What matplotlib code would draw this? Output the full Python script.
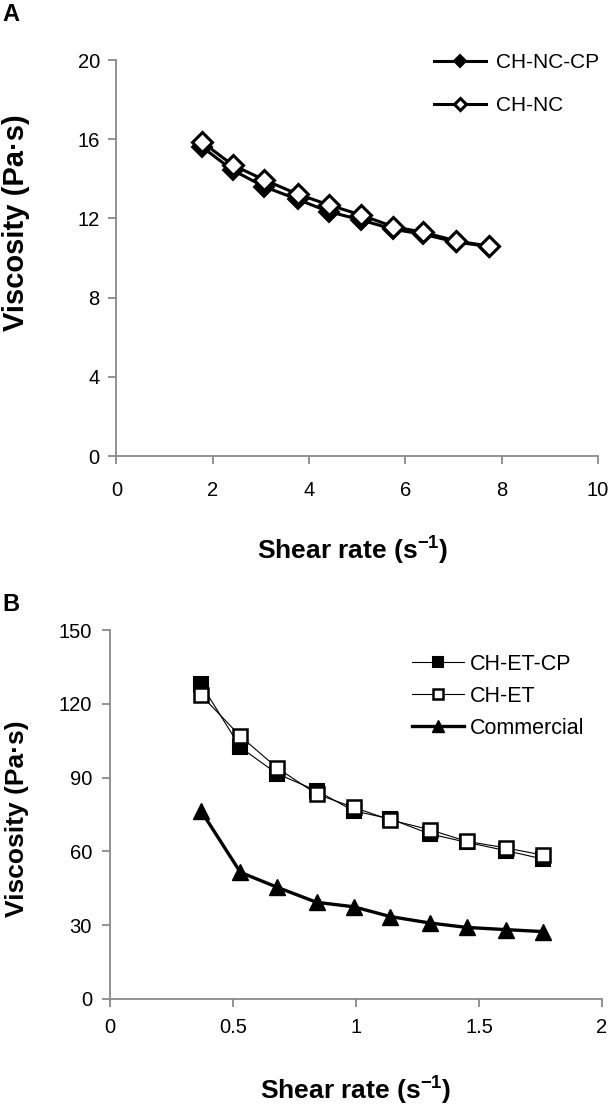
import matplotlib
matplotlib.use('Agg')
import matplotlib.pyplot as plt

plt.rcParams['font.family'] = ['Liberation Sans', 'DejaVu Sans']
plt.rcParams['mathtext.fontset'] = 'custom'
plt.rcParams['mathtext.rm'] = 'Liberation Sans:bold'
plt.rcParams['mathtext.default'] = 'rm'

# Panel A data
shear_a = [1.77, 2.41, 3.07, 3.76, 4.41, 5.08, 5.75, 6.37, 7.06, 7.74]
visc_nc_cp = [15.62, 14.44, 13.60, 12.96, 12.34, 11.92, 11.45, 11.20, 10.80, 10.58]
visc_nc = [15.87, 14.70, 13.94, 13.23, 12.68, 12.17, 11.58, 11.30, 10.86, 10.60]

# Panel B data
shear_b = [0.37, 0.53, 0.68, 0.84, 0.99, 1.14, 1.30, 1.45, 1.61, 1.76]
visc_et_cp = [128.0, 102.3, 91.5, 84.7, 76.5, 73.2, 67.1, 63.7, 60.3, 56.9]
visc_et = [123.6, 106.8, 93.9, 83.3, 77.9, 72.8, 68.8, 64.1, 61.4, 58.5]
visc_comm = [76.5, 51.5, 45.4, 39.3, 37.5, 33.5, 30.9, 29.1, 28.2, 27.4]

W, H = 616, 1105
fig = plt.figure(figsize=(W / 100, H / 100), dpi=100)

grey = '#8a8a8a'


def px_axes(left, right, top, bottom):
    return fig.add_axes([left / W, 1 - bottom / H, (right - left) / W, (bottom - top) / H])


def style(ax, xpad, ypad):
    for s in ['top', 'right']:
        ax.spines[s].set_visible(False)
    for s in ['left', 'bottom']:
        ax.spines[s].set_color(grey)
        ax.spines[s].set_linewidth(1.3)
    ax.tick_params(axis='both', direction='out', color=grey, width=1.3, length=6,
                   labelsize=14.5, labelcolor='black')
    ax.tick_params(axis='x', pad=xpad)
    ax.tick_params(axis='y', pad=ypad)


# ---- Panel A ----
axA = px_axes(116.5, 598, 60, 456)
axA.plot(shear_a, visc_nc_cp, color='black', lw=2.2, marker='D', ms=10,
         mfc='black', mec='black', mew=1.5, label='CH-NC-CP')
axA.plot(shear_a, visc_nc, color='black', lw=2.2, marker='D', ms=10.5,
         mfc='white', mec='black', mew=2.2, label='CH-NC')
axA.set_xlim(0, 10)
axA.set_ylim(0, 20)
axA.set_xticks([0, 2, 4, 6, 8, 10])
axA.set_yticks([0, 4, 8, 12, 16, 20])
style(axA, 12, 6)
axA.set_xlabel(r'Shear rate (s$^{-1}$)', fontsize=19, fontweight='bold')
axA.xaxis.set_label_coords(0.49, -0.2)
axA.xaxis.label.set_va('top')
axA.set_ylabel('Viscosity (Pa·s)', fontsize=21, fontweight='bold')
axA.yaxis.set_label_coords(-0.18, 0.59)
axA.legend(loc='upper left', bbox_to_anchor=(0.66, 1.017), frameon=False,
           fontsize=15, handlelength=2.5, handletextpad=0.45, labelspacing=1.15,
           borderpad=0, borderaxespad=0, markerscale=0.6)

# ---- Panel B ----
axB = px_axes(110, 602, 630, 999)
axB.plot(shear_b, visc_et_cp, color='black', lw=0.8, marker='s', ms=10,
         mfc='black', mec='black', mew=1.5, label='CH-ET-CP')
axB.plot(shear_b, visc_et, color='black', lw=0.8, marker='s', ms=10,
         mfc='white', mec='black', mew=1.8, label='CH-ET')
axB.plot(shear_b, visc_comm, color='black', lw=2.4, marker='^', ms=11,
         mfc='black', mec='black', label='Commercial')
axB.set_xlim(0, 2)
axB.set_ylim(0, 150)
axB.set_xticks([0, 0.5, 1, 1.5, 2])
axB.set_xticklabels(['0', '0.5', '1', '1.5', '2'])
axB.set_yticks([0, 30, 60, 90, 120, 150])
style(axB, 8, 7)
axB.set_xlabel(r'Shear rate (s$^{-1}$)', fontsize=19, fontweight='bold')
axB.xaxis.set_label_coords(0.5, -0.205)
axB.xaxis.label.set_va('top')
axB.set_ylabel('Viscosity (Pa·s)', fontsize=19, fontweight='bold')
axB.yaxis.set_label_coords(-0.165, 0.49)
axB.legend(loc='upper left', bbox_to_anchor=(0.614, 0.935), frameon=False,
           fontsize=15.5, handlelength=2.4, handletextpad=0.3, labelspacing=0.5,
           borderpad=0, borderaxespad=0, markerscale=0.75)

fig.text(2 / W, 1 - 3 / H, 'A', fontsize=17, fontweight='bold', va='top', ha='left')
fig.text(2 / W, 1 - 593 / H, 'B', fontsize=17, fontweight='bold', va='top', ha='left')

fig.savefig('out.png', dpi=100)
plt.close(fig)
